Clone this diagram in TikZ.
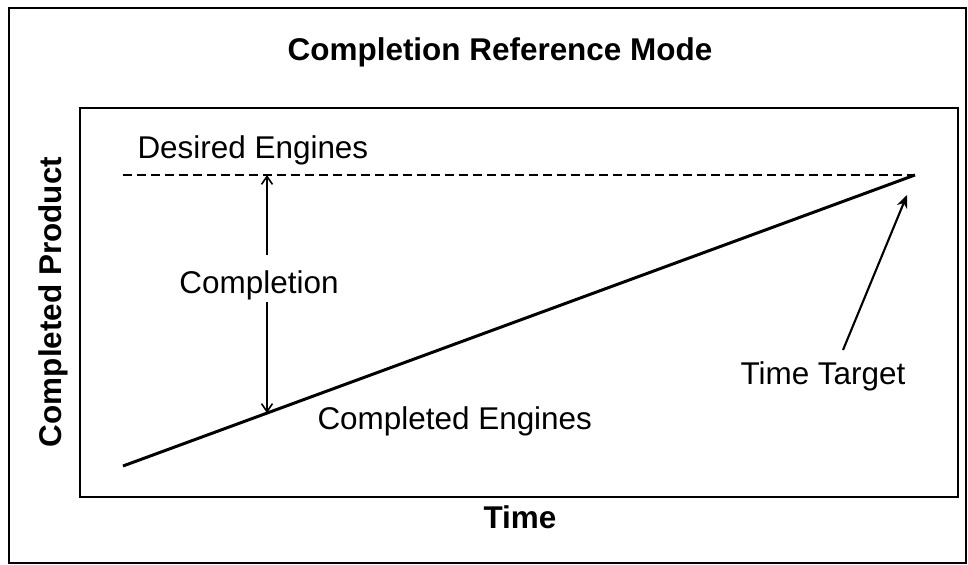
\documentclass[tikz,border=0pt]{standalone}
\usepackage{fontspec}
\setmainfont{Liberation Sans}
\usetikzlibrary{arrows.meta, positioning, calc}

\begin{document}
\begin{tikzpicture}[
    x = 0.02cm, y = -0.02cm, % one unit per pixel
    > = {Straight Barb[length=1.6mm, width=2.2mm]}, % arrow head style
    semithick % line style
    ]

    \tikzset{
    lbl/.style = {font=\fontsize{17.9}{21}\selectfont, inner sep=0pt},
    heading/.style = {lbl, font=\fontsize{17.9}{21}\selectfont\bfseries},
    frame/.style = {draw, line width=1.2pt},
    desired/.style = {line width=1.1pt, dash pattern=on 1.8mm off 1mm},
    actual/.style = {line width=1.7pt}
    }

    \useasboundingbox (0,0) rectangle (968,565);
    \draw[frame] (9,8) rectangle (966,563);
    \draw[frame] (80,108) rectangle (958,497);

    \node[heading, anchor=base] (title) at (500,60) {Completion Reference Mode};
    \node[heading, rotate=90] (ylab) at (53,302) {Completed Product};
    \node[heading, anchor=base] (xlab) at (520,528) {Time};

    \coordinate (dstart) at (123,175);
    \coordinate (start) at (123,466);
    \coordinate (target) at (915,175);
    \coordinate (dtop) at (267,175);
    \coordinate (dbot) at (267,413);
    \coordinate (cup) at (267,255);
    \coordinate (clow) at (267,302);
    \coordinate (ttfoot) at (843,350);
    \coordinate (tthead) at (907,195);

    \draw[desired] (dstart) -- (target);
    \draw[actual] (start) -- (target);

    \node[lbl, anchor=base west] (want) at (137,158) {Desired Engines};
    \node[lbl, anchor=base] (compl) at (259,293) {Completion};
    \node[lbl, anchor=base west] (done) at (317,429) {Completed Engines};
    \node[lbl, anchor=base west] (tt) at (740,384) {Time Target};

    \draw[->, line width=0.9pt] (cup) -- (dtop);
    \draw[->, line width=0.9pt] (clow) -- (dbot);
    \draw[-{Stealth[length=2.6mm, width=2.2mm]}, line width=1.2pt] (ttfoot) -- (tthead);

\end{tikzpicture}
\end{document}
